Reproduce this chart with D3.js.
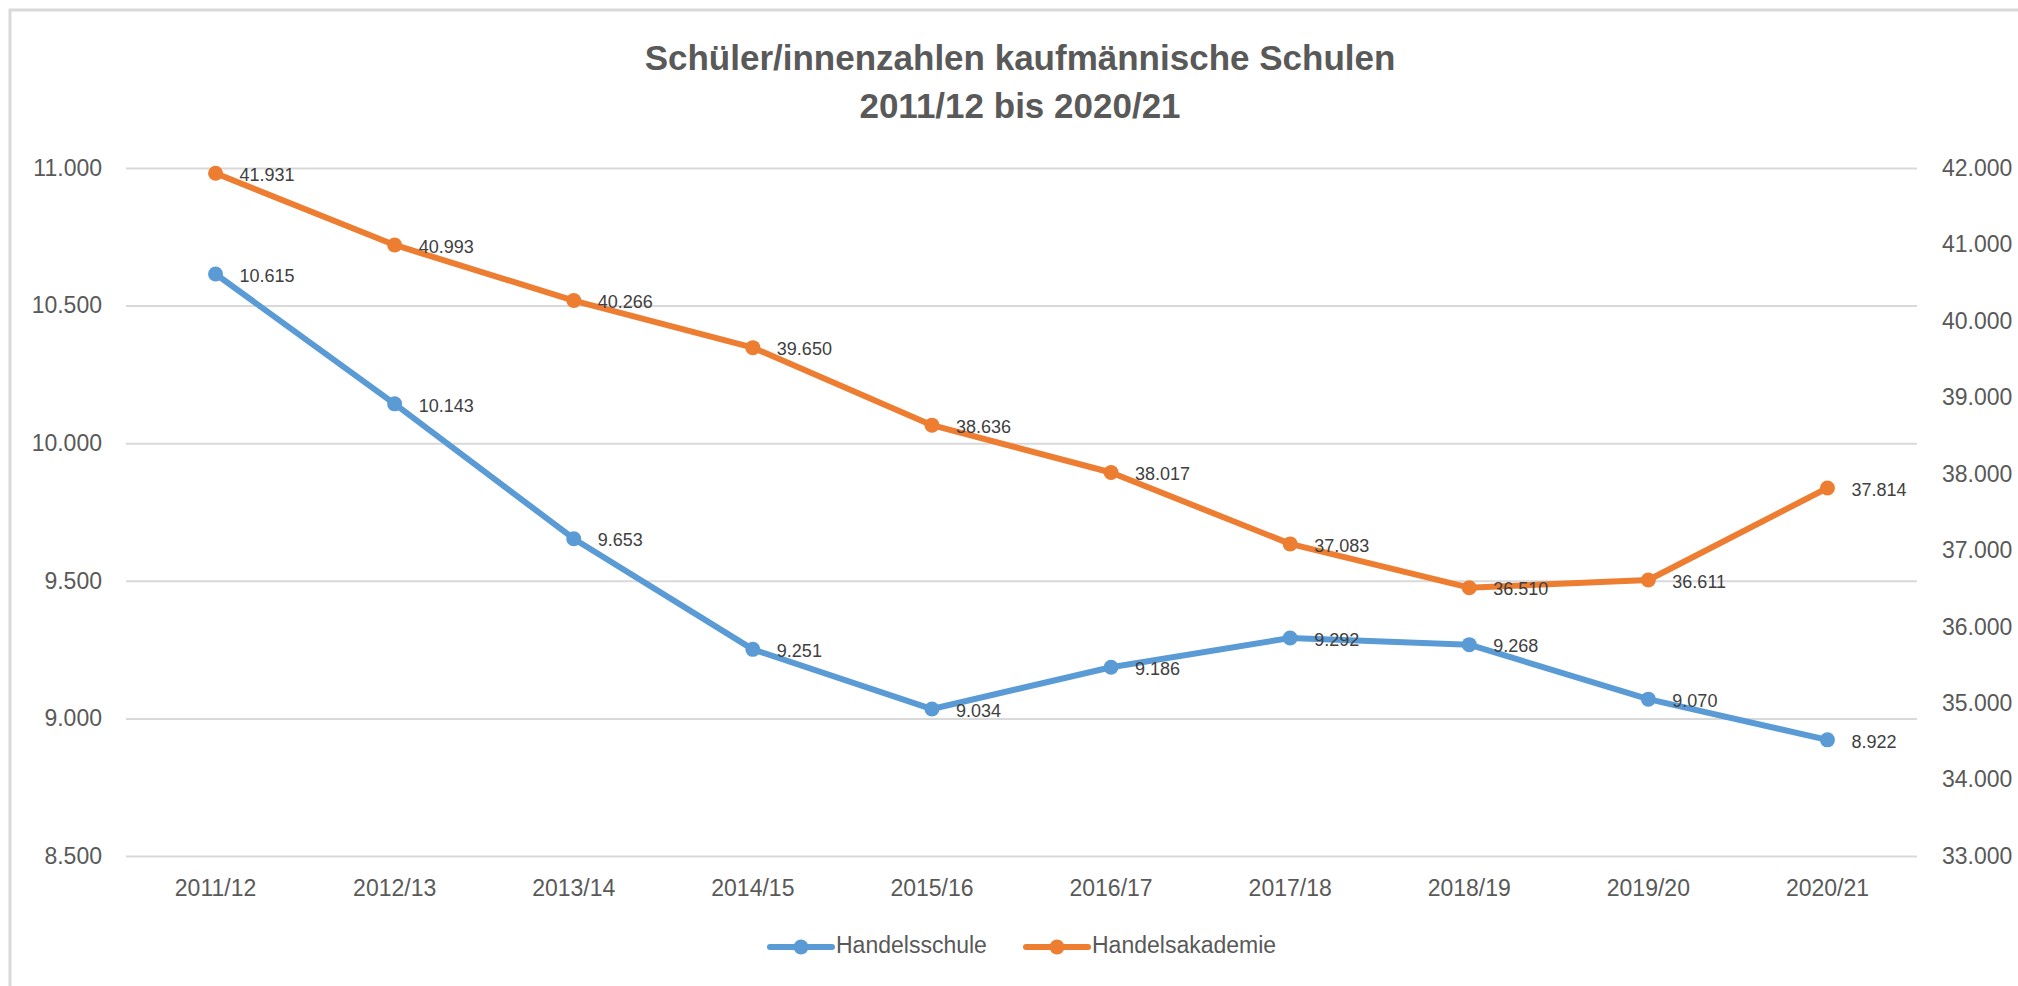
<!DOCTYPE html>
<html>
<head>
<meta charset="utf-8">
<script src="https://cdn.jsdelivr.net/npm/d3@7"></script>
<style>
  body { margin: 0; background: #ffffff; }
  text { font-family: "Liberation Sans", Arial, sans-serif; }
</style>
</head>
<body>
<svg id="chart" width="2018" height="986"></svg>
<script>
"use strict";

// Données
var years = ["2011/12", "2012/13", "2013/14", "2014/15", "2015/16", "2016/17", "2017/18", "2018/19", "2019/20", "2020/21"]
var handelsschule = [10615, 10143, 9653, 9251, 9034, 9186, 9292, 9268, 9070, 8922]
var handelsakademie = [41931, 40993, 40266, 39650, 38636, 38017, 37083, 36510, 36611, 37814]
var leftTicks = [8500, 9000, 9500, 10000, 10500, 11000]
var rightTicks = [33000, 34000, 35000, 36000, 37000, 38000, 39000, 40000, 41000, 42000]
var titleLines = ["Schüler/innenzahlen kaufmännische Schulen", "2011/12 bis 2020/21"]

var series = [
  { name: "Handelsschule", values: handelsschule, axis: "left", color: "#5B9BD5" },
  { name: "Handelsakademie", values: handelsakademie, axis: "right", color: "#ED7D31" }
]

var svg = d3.select("#chart")
var width = +svg.attr("width")
var height = +svg.attr("height")

var plot = { left: 126, right: 1917, top: 168, bottom: 856 }

// format allemand : point comme séparateur de milliers
var de = d3.formatLocale({ decimal: ",", thousands: ".", grouping: [3], currency: ["", " €"] })
var fmt = de.format(",d")

var x = d3.scaleBand().domain(years).range([plot.left, plot.right]).padding(0)
var yLeft = d3.scaleLinear().domain([8500, 11000]).range([plot.bottom, plot.top])
var yRight = d3.scaleLinear().domain([33000, 42000]).range([plot.bottom, plot.top])

function cx(d, i) { return x(years[i]) + x.bandwidth() / 2 }

// cadre du graphique (coupé à droite et en bas comme sur la capture)
svg.append("rect")
  .attr("x", 10).attr("y", 10)
  .attr("width", width + 50).attr("height", height + 50)
  .attr("fill", "none")
  .attr("stroke", "#d9d9d9")
  .attr("stroke-width", 3)

// titre
svg.append("g")
  .selectAll("text")
  .data(titleLines)
  .enter()
  .append("text")
    .attr("x", 1020)
    .attr("y", function(d, i) { return 70 + i * 48 })
    .attr("text-anchor", "middle")
    .attr("font-size", 35)
    .attr("font-weight", "bold")
    .attr("fill", "#595959")
    .text(function(d) { return d })

// axe gauche + lignes de grille
var leftAxis = svg.append("g")
  .attr("transform", "translate(" + plot.left + ",0)")
  .call(d3.axisLeft(yLeft).tickValues(leftTicks).tickFormat(fmt)
    .tickSize(-(plot.right - plot.left)).tickPadding(24))
leftAxis.select(".domain").remove()
leftAxis.selectAll("line").attr("stroke", "#d9d9d9").attr("stroke-width", 2)
leftAxis.selectAll("text")
  .attr("font-size", 23)
  .attr("fill", "#595959")
  .style("font-family", "'Liberation Sans', Arial, sans-serif")

// axe droit (sans grille)
var rightAxis = svg.append("g")
  .attr("transform", "translate(" + plot.right + ",0)")
  .call(d3.axisRight(yRight).tickValues(rightTicks).tickFormat(fmt).tickSize(0).tickPadding(25))
rightAxis.select(".domain").remove()
rightAxis.selectAll("text")
  .attr("font-size", 23)
  .attr("fill", "#595959")
  .style("font-family", "'Liberation Sans', Arial, sans-serif")

// axe des catégories
var bottomAxis = svg.append("g")
  .attr("transform", "translate(0," + plot.bottom + ")")
  .call(d3.axisBottom(x).tickSize(0).tickPadding(24))
bottomAxis.select(".domain").remove()
bottomAxis.selectAll("text")
  .attr("font-size", 23)
  .attr("fill", "#595959")
  .style("font-family", "'Liberation Sans', Arial, sans-serif")

// lignes, points et étiquettes de chaque série
series.forEach(function(s) {
  var y = s.axis === "left" ? yLeft : yRight
  var line = d3.line()
    .x(function(d, i) { return cx(d, i) })
    .y(function(d) { return y(d) })

  var g = svg.append("g").attr("class", "serie")

  g.append("path")
    .datum(s.values)
    .attr("d", line)
    .attr("fill", "none")
    .attr("stroke", s.color)
    .attr("stroke-width", 6)
    .attr("stroke-linejoin", "round")
    .attr("stroke-linecap", "round")

  g.selectAll("circle")
    .data(s.values)
    .enter()
    .append("circle")
      .attr("cx", cx)
      .attr("cy", function(d) { return y(d) })
      .attr("r", 7.5)
      .attr("fill", s.color)

  g.selectAll("text")
    .data(s.values)
    .enter()
    .append("text")
      .attr("x", function(d, i) { return cx(d, i) + 24 })
      .attr("y", function(d) { return y(d) + 3 })
      .attr("dominant-baseline", "middle")
      .attr("font-size", 18)
      .attr("fill", "#404040")
      .text(function(d) { return fmt(d) })
})

// légende
var legendPos = [770, 1026]
var legend = svg.append("g")
  .selectAll("g")
  .data(series)
  .enter()
  .append("g")
    .attr("transform", function(d, i) { return "translate(" + legendPos[i] + ",947)" })

legend.append("line")
  .attr("x1", 0).attr("x2", 62)
  .attr("stroke", function(d) { return d.color })
  .attr("stroke-width", 6)
  .attr("stroke-linecap", "round")

legend.append("circle")
  .attr("cx", 31)
  .attr("r", 7.5)
  .attr("fill", function(d) { return d.color })

legend.append("text")
  .attr("x", 66)
  .attr("dominant-baseline", "middle")
  .attr("font-size", 23)
  .attr("fill", "#595959")
  .text(function(d) { return d.name })
</script>
</body>
</html>
